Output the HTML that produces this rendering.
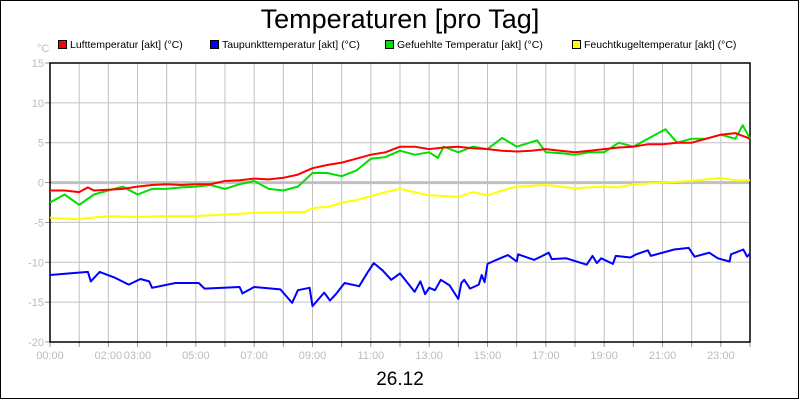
<!DOCTYPE html>
<html><head><meta charset="utf-8"><style>
body{margin:0;background:#fff;}
svg{display:block;font-family:"Liberation Sans",Arial,sans-serif;}
</style></head><body>
<svg id="chart" width="800" height="400" viewBox="0 0 800 400" xmlns="http://www.w3.org/2000/svg">
<rect x="0.5" y="0.5" width="798" height="398" fill="#fff" stroke="#000"/>
<text x="400" y="28" font-size="27" text-anchor="middle">Temperaturen [pro Tag]</text>
<text x="37" y="52" font-size="11" fill="#bbb">°C</text>
<g id="legend"></g>
<g id="grid"></g>
<g id="axes"></g>
<g id="series"></g>
<text x="400" y="385" font-size="19" text-anchor="middle">26.12</text>
</svg>
<script>
const yTicks=[15,10,5,0,-5,-10,-15,-20];
const xTickHours=[0,2,3,5,7,9,11,13,15,17,19,21,23];
const xTickLabels=["00:00","02:00","03:00","05:00","07:00","09:00","11:00","13:00","15:00","17:00","19:00","21:00","23:00"];
const legendLabels=["Lufttemperatur [akt] (°C)","Taupunkttemperatur [akt] (°C)","Gefuehlte Temperatur [akt] (°C)","Feuchtkugeltemperatur [akt] (°C)"];
const seriesColors=["#ff0000","#0000ff","#00e000","#ffff00"];
const redHours=[0,0.5,1,1.3,1.5,2,2.5,3,3.5,4,4.5,5,5.5,6,6.5,7,7.5,8,8.5,9,9.5,10,10.5,11,11.5,12,12.5,13,13.5,14,14.5,15,15.5,16,16.5,17,17.5,18,18.5,19,19.5,20,20.5,21,21.5,22,22.5,23,23.5,24];
const redVals=[-1.0,-1.0,-1.2,-0.6,-1.0,-0.9,-0.8,-0.5,-0.3,-0.2,-0.3,-0.2,-0.2,0.2,0.3,0.5,0.4,0.6,1.0,1.8,2.2,2.5,3.0,3.5,3.8,4.5,4.5,4.2,4.4,4.5,4.3,4.2,4.0,3.9,4.0,4.2,4.0,3.8,4.0,4.2,4.4,4.5,4.8,4.8,5.0,5.0,5.5,6.0,6.2,5.5];
const greenHours=[0,0.5,1,1.5,2,2.5,3,3.5,4,4.5,5,5.5,6,6.5,7,7.5,8,8.5,9,9.5,10,10.5,11,11.5,12,12.5,13,13.3,13.5,14,14.5,15,15.5,16,16.7,17,17.5,18,18.5,19,19.5,20,20.5,21.1,21.5,22,22.5,23,23.5,23.75,24];
const greenVals=[-2.5,-1.5,-2.8,-1.5,-1.0,-0.5,-1.5,-0.8,-0.8,-0.6,-0.5,-0.3,-0.8,-0.2,0.2,-0.8,-1.0,-0.5,1.2,1.2,0.8,1.5,3.0,3.2,4.0,3.5,3.8,3.1,4.5,3.8,4.5,4.2,5.6,4.5,5.3,3.8,3.7,3.5,3.8,3.8,5.0,4.5,5.5,6.7,5.0,5.5,5.5,6.0,5.5,7.2,5.5];
const blueHours=[0,1.3,1.4,1.7,2.2,2.7,3.1,3.4,3.5,4.3,5.1,5.3,6.5,6.6,7,7.9,8.3,8.5,8.9,9,9.4,9.6,9.8,10.1,10.6,10.9,11.1,11.4,11.7,12,12.5,12.7,12.86,13.0,13.2,13.4,13.7,14,14.1,14.2,14.4,14.7,14.8,14.9,15.0,15.3,15.7,16,16.05,16.6,17.1,17.2,17.7,18.4,18.6,18.75,18.9,19.3,19.4,19.9,20.1,20.5,20.6,21.4,21.9,22.1,22.6,22.9,23.3,23.35,23.77,23.9,24];
const blueVals=[-11.6,-11.2,-12.4,-11.2,-11.9,-12.8,-12.1,-12.4,-13.2,-12.6,-12.6,-13.3,-13.1,-13.9,-13.1,-13.4,-15.1,-13.5,-13.2,-15.5,-13.8,-14.8,-14.0,-12.6,-13.0,-11.2,-10.1,-11.0,-12.2,-11.4,-13.7,-12.4,-14.0,-13.2,-13.5,-12.2,-12.9,-14.6,-12.6,-12.2,-13.3,-12.8,-11.6,-12.5,-10.2,-9.7,-9.1,-9.9,-9.0,-9.7,-8.8,-9.6,-9.5,-10.3,-9.2,-10.1,-9.5,-10.2,-9.2,-9.4,-9.0,-8.5,-9.2,-8.4,-8.2,-9.3,-8.8,-9.5,-9.9,-9.0,-8.4,-9.3,-8.9];
const yellowHours=[0,0.9,2,3,4,5,6,7,8,8.7,9,9.6,10,10.5,11,11.5,12,12.5,13,14,14.5,15,15.5,16,17,18,19,19.5,20,21,22,23,23.5,24];
const yellowVals=[-4.4,-4.6,-4.2,-4.3,-4.2,-4.2,-4.0,-3.8,-3.7,-3.7,-3.2,-3.0,-2.5,-2.2,-1.7,-1.2,-0.8,-1.2,-1.6,-1.8,-1.2,-1.6,-1.0,-0.5,-0.3,-0.7,-0.5,-0.6,-0.2,0.0,0.2,0.6,0.3,0.3];

const NS="http://www.w3.org/2000/svg";
const L=50,R=750,T=63,B=342;
function xs(h){return L+(R-L)*h/24;}
function ys(v){return T+(B-T)*(15-v)/35;}
function mk(tag,attrs,parent){const e=document.createElementNS(NS,tag);for(const k in attrs)e.setAttribute(k,attrs[k]);parent.appendChild(e);return e;}
const grid=document.getElementById('grid'),axes=document.getElementById('axes'),ser=document.getElementById('series'),leg=document.getElementById('legend');
for(let h=1;h<24;h++){
  const g=mk('line',{x1:xs(h),x2:xs(h),y1:T,y2:B,stroke:'#c0c0c0','stroke-width':1},grid);
  
  
}
for(let h=0;h<=24;h++){
  const t=mk('line',{x1:xs(h),x2:xs(h),y1:B,y2:B+5,stroke:'#999','stroke-width':1},axes);
  
  
}
yTicks.forEach(v=>{
  if(v!==15&&v!==-20){
    const g=mk('line',{x1:L,x2:R,y1:ys(v),y2:ys(v),stroke:'#c0c0c0','stroke-width':v===0?3:1},grid);
    
    
  }
  const tk=mk('line',{x1:L-5,x2:L,y1:ys(v),y2:ys(v),stroke:'#999'},axes);
  
  
  const t=mk('text',{x:L-6,y:ys(v)+4,'font-size':11,fill:'#bbb','text-anchor':'end'},axes);
  t.textContent=v;
  
  
});
xTickHours.forEach((h,i)=>{
  const t=mk('text',{x:xs(h),y:B+17,'font-size':11,fill:'#bbb','text-anchor':'middle'},axes);
  t.textContent=xTickLabels[i];
  
  
});
const all=[[redHours,redVals],[blueHours,blueVals],[greenHours,greenVals],[yellowHours,yellowVals]];
const order=[1,3,2,0];
const names=['luft-line','taupunkt-line','gefuehlt-line','feuchtkugel-line'];
order.forEach(i=>{
  const [hs,vs]=all[i];
  const p=mk('polyline',{points:hs.map((h,j)=>xs(h).toFixed(1)+','+ys(vs[j]).toFixed(1)).join(' '),fill:'none',stroke:seriesColors[i],'stroke-width':2,'stroke-linejoin':'round'},ser);
  
  
});
const frame=mk('rect',{x:L,y:T,width:R-L,height:B-T,fill:'none',stroke:'#000','stroke-width':1.5},axes);


const legX=[58,210,385,572];
legendLabels.forEach((lab,i)=>{
  const r=mk('rect',{x:legX[i]+0.5,y:40.5,width:8,height:8,fill:seriesColors[i],stroke:'#000'},leg);
  
  
  const t=mk('text',{x:legX[i]+12,y:48,'font-size':10.5},leg);
  t.textContent=lab;
  
  
});
</script>
</body></html>
